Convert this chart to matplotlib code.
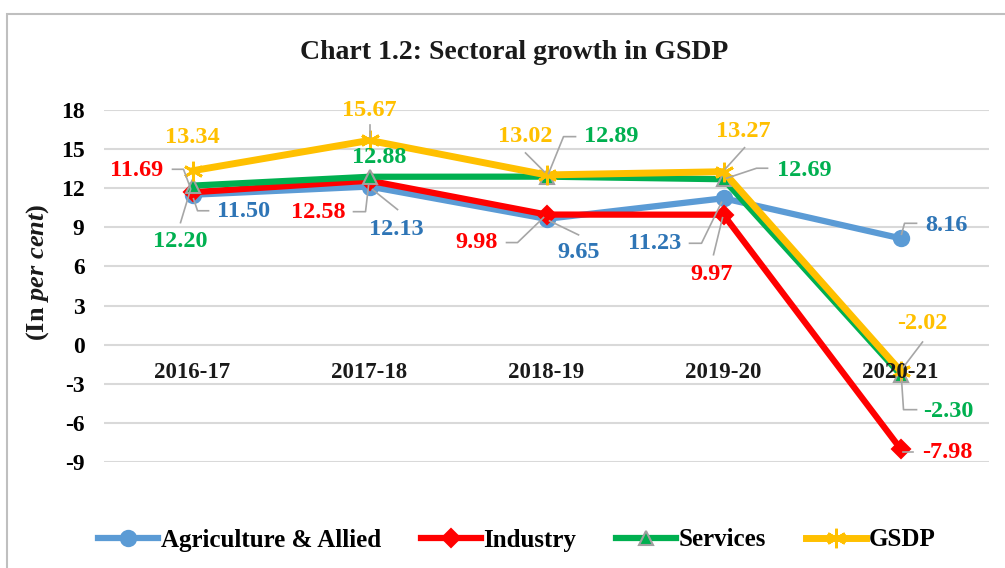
import numpy as np
import matplotlib.pyplot as plt
import matplotlib.transforms as mtransforms
from matplotlib.lines import Line2D
from matplotlib.patches import Rectangle

plt.rcParams['font.family'] = 'Liberation Serif'
plt.rcParams['font.weight'] = 'bold'
plt.rcParams['axes.unicode_minus'] = False
plt.rcParams['mathtext.fontset'] = 'custom'
plt.rcParams['mathtext.rm'] = 'Liberation Serif:bold'
plt.rcParams['mathtext.it'] = 'Liberation Serif:italic:bold'

years = ['2016-17', '2017-18', '2018-19', '2019-20', '2020-21']
agri = [11.50, 12.13, 9.65, 11.23, 8.16]
industry = [11.69, 12.58, 9.98, 9.97, -7.98]
services = [12.20, 12.88, 12.89, 12.69, -2.30]
gsdp = [13.34, 15.67, 13.02, 13.27, -2.02]
names = ['Agriculture & Allied', 'Industry', 'Services', 'GSDP']

series = [agri, industry, services, gsdp]
colors = ['#5B9BD5', '#FF0000', '#00B050', '#FFC000']
label_colors = ['#2E75B6', '#FF0000', '#00B050', '#FFC000']
markers = ['o', 'D', '^', (6, 2, 0)]
msizes = [11, 9, 10, 14]
lws = [4.5, 4.5, 4.5, 5]

# label placement: (series, category, dx, dy, leader) in pixels, dy downwards
labels = [
    (3, 0, 0, -33, None),
    (1, 0, -56, -22, [(-20, -23), (-9, -23), (-2, -4)]),
    (0, 0, 51, 17, [(16, 16), (5, 16), (1, 4)]),
    (2, 0, -12, 56, [(-12, 37), (-2, 4)]),
    (3, 1, 0, -30, [(0, -15), (0, -3)]),
    (2, 1, 10, -19, None),
    (1, 1, -51, 32, [(-16, 31), (-4, 31), (-1, 5)]),
    (0, 1, 27, 43, [(28, 23), (3, 3)]),
    (3, 2, -21, -38, [(-21, -22), (-2, -3)]),
    (2, 2, 65, -40, [(29, -40), (17, -40), (2, -3)]),
    (1, 2, -70, 28, [(-40, 28), (-29, 28), (-3, 3)]),
    (0, 2, 32, 34, [(32, 16), (3, 2)]),
    (0, 3, -69, 45, [(-34, 45), (-22, 45), (-2, 4)]),
    (3, 3, 20, -40, [(21, -24), (2, -3)]),
    (2, 3, 81, -9, [(44, -11), (33, -11), (3, -1)]),
    (1, 3, -12, 60, [(-10, 40), (-1, 3)]),
    (0, 4, 46, -13, [(16, -15), (4, -15), (1, -4)]),
    (3, 4, 22, -48, [(22, -29), (3, -4)]),
    (2, 4, 48, 37, [(16, 35), (3, 35), (1, 5)]),
    (1, 4, 47, 4, [(12, 3), (2, 3)]),
]

fig = plt.figure(figsize=(10.05, 5.68), dpi=100)
fig.add_artist(Rectangle((0.007, -0.1), 1.2, 1.075, transform=fig.transFigure,
                         fill=False, edgecolor='#BFBFBF', lw=1.5))
ax = fig.add_axes([0.1035, 0.1866, 0.8806, 0.6197])

x = np.arange(len(years))
for i, vals in enumerate(series):
    ax.plot(x, vals, color=colors[i], lw=lws[i], marker=markers[i], ms=msizes[i],
            mec=colors[i] if i != 2 else '#A0A0A0', mfc=colors[i], mew=1.5 if i != 3 else 2,
            label=names[i], zorder=3 + i, solid_joinstyle='miter')

ax.set_xlim(-0.5, len(years) - 0.5)
ax.set_ylim(-9, 18)
ax.set_yticks(np.arange(-9, 19, 3))
ax.set_xticks([])
ax.tick_params(axis='y', length=0, pad=14, labelsize=17)
ax.grid(axis='y', color='#D9D9D9', lw=1.5)
ax.set_axisbelow(True)
for s in ax.spines.values():
    s.set_visible(False)

for i, yr in enumerate(years):
    ax.annotate(yr, xy=(i, 0), xytext=(0, -20), textcoords='offset points',
                ha='center', va='center', fontsize=16.5, color='#1a1a1a', zorder=10)

for si, ci, dx, dy, leader in labels:
    v = series[si][ci]
    ax.annotate(f'{v:.2f}', xy=(ci, v), xytext=(dx * 0.72, -dy * 0.72),
                textcoords='offset points', ha='center', va='center',
                fontsize=17.5, color=label_colors[si], zorder=12)
    if leader:
        tr = fig.dpi_scale_trans + mtransforms.ScaledTranslation(ci, v, ax.transData)
        lx = [p[0] / 100 for p in leader]
        ly = [-p[1] / 100 for p in leader]
        ax.add_artist(Line2D(lx, ly, transform=tr, color='#A6A6A6', lw=1.2,
                             clip_on=False, zorder=11))

fig.text(0.512, 0.908, 'Chart 1.2: Sectoral growth in GSDP', ha='center', va='center',
         fontsize=20, color='#1a1a1a')
fig.text(38 / 1005, 1 - 272 / 568, r'(In $\mathit{per\ cent}$)', rotation=90,
         ha='center', va='center', fontsize=19, color='#1a1a1a')

fig.legend(loc='center', bbox_to_anchor=(517 / 1005, 1 - 540 / 568), ncol=4,
           frameon=False, fontsize=18, handlelength=2.4, handletextpad=0.1,
           columnspacing=1.6)

fig.savefig('out.png', dpi=100)
